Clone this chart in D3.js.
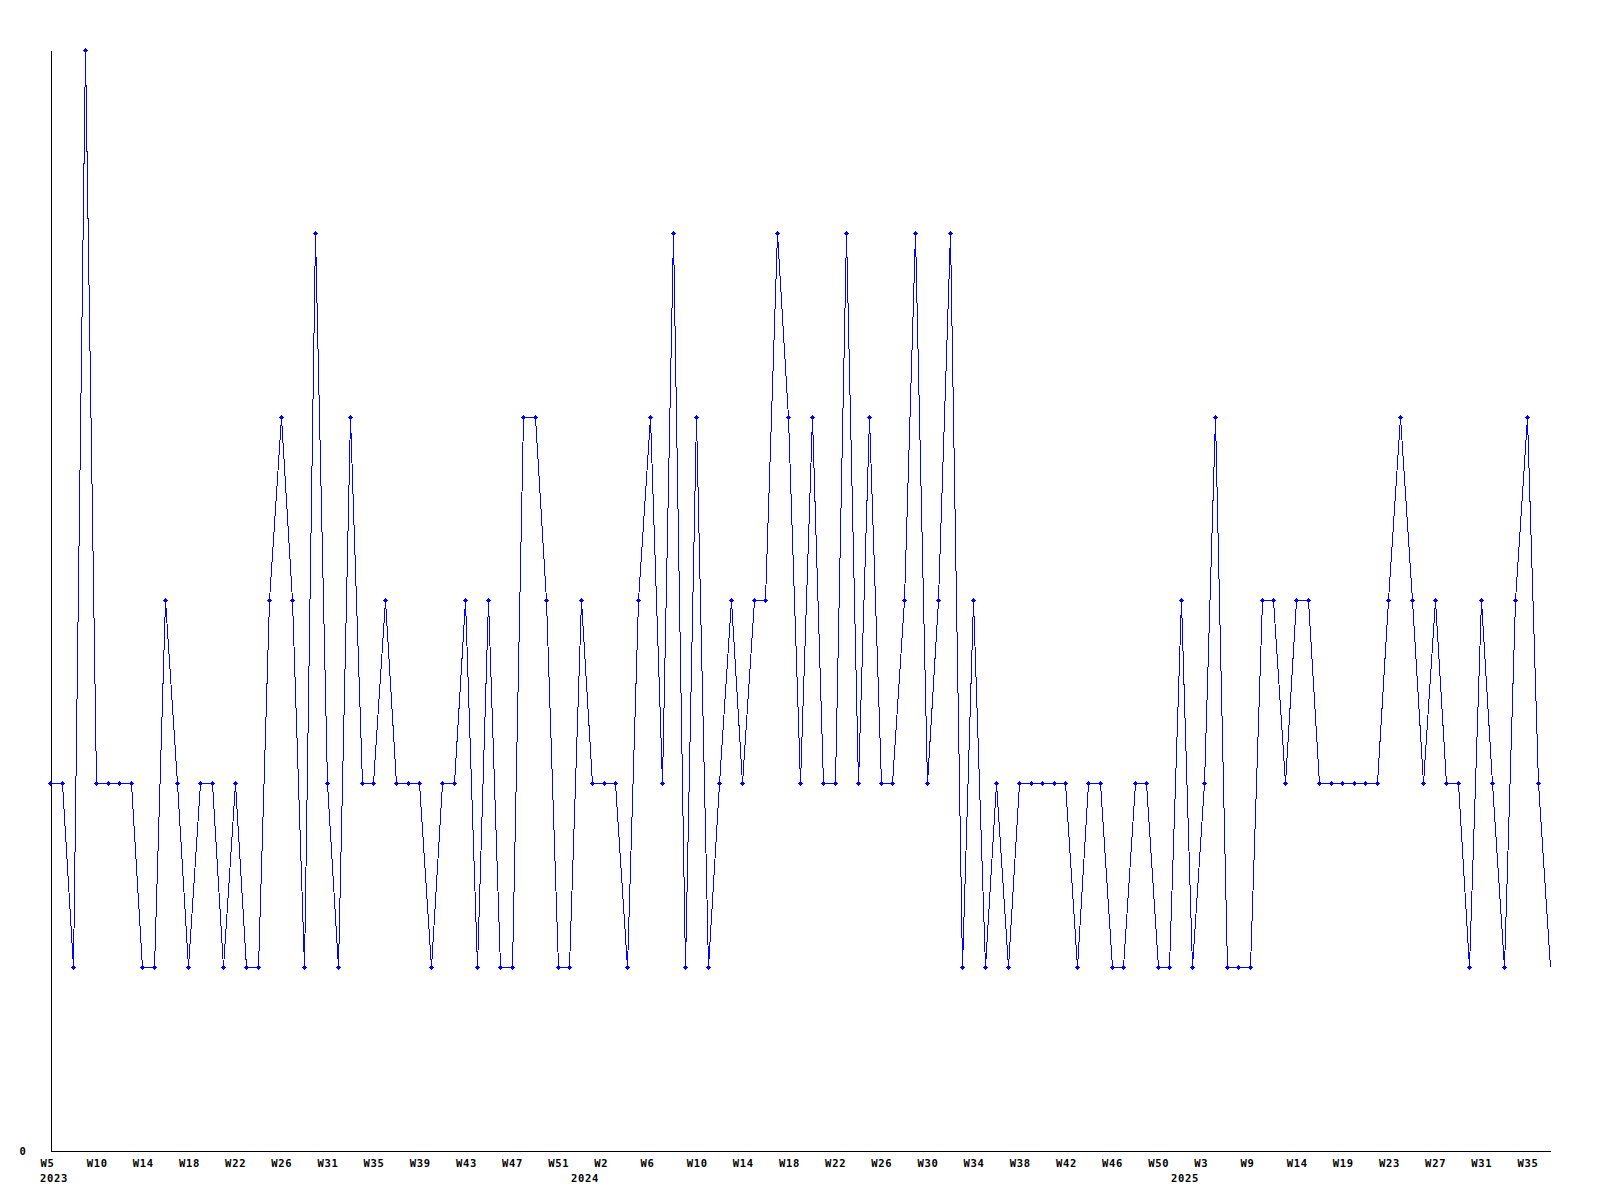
<!DOCTYPE html>
<html>
<head>
<meta charset="utf-8">
<script src="https://cdn.jsdelivr.net/npm/d3@7"></script>
<style>
  html, body { margin: 0; padding: 0; background: #ffffff; }
  svg { display: block; }
  text { font-family: "DejaVu Sans Mono", "Liberation Mono", monospace; font-weight: bold; font-size: 10.5px; letter-spacing: 0.7px; fill: #000; }
</style>
</head>
<body>
<svg id="chart" width="1600" height="1200"></svg>
<script>
// ---- data ----
const years = [2023, 2024, 2025];
const weeks2023 = [5,6,7,8,10,11,12,13,14,15,16,17,18,19,20,21,22,23,24,25,26,27,28,29,31,32,33,34,35,36,37,38,39,40,41,42,43,44,45,46,47,48,49,50,51,52];
const weeks2024 = [0,1,2,3,4,5,6,7,8,9,10,11,12,13,14,15,16,17,18,19,20,21,22,23,24,25,26,27,28,29,30,31,32,33,34,35,36,37,38,39,40,41,42,43,44,45,46,47,48,49,50,51];
const weeks2025 = [1,2,3,4,6,7,9,10,11,13,14,15,16,17,19,20,21,22,23,24,25,26,27,28,29,30,31,32,33,34,35,36,37];
const values = [
  2,2,1,6,2,2,2,2,1,1,
  3,2,1,2,2,1,2,1,1,3,
  4,3,1,5,2,1,4,2,2,3,
  2,2,2,1,2,2,3,1,3,1,
  1,4,4,3,1,1,3,2,2,2,
  1,3,4,2,5,1,4,1,2,3,
  2,3,3,5,4,2,4,2,2,5,
  2,4,2,2,3,5,2,3,5,1,
  3,1,2,1,2,2,2,2,2,1,
  2,2,1,1,2,2,1,1,3,1,
  2,4,1,1,1,3,3,2,3,3,
  2,2,2,2,2,2,3,4,3,2,
  3,2,2,1,3,2,1,3,4,2,
  1
];
const yTickValues = [0];
const tickEvery = 4;

(function () {
// categories built from the week lists
const weekLists = [weeks2023, weeks2024, weeks2025];
const categories = [];
weekLists.forEach((wl, yi) => wl.forEach(w => categories.push({ year: years[yi], week: w })));
const points = values.map((v, i) => ({ i, v, cat: categories[i] }));

// ---- layout ----
const svg = d3.select("#chart");
const mLeft = 50, mRight = 1550, mTop = 50, mBottom = 1150;

const x = d3.scaleLinear().domain([0, values.length - 1]).range([mLeft, mRight]);
const y = d3.scaleLinear().domain([0, d3.max(values)]).range([mBottom, mTop]);

const px = i => Math.round(x(i));
const py = v => Math.round(y(v));

// axes
const xTickIdx = d3.range(0, categories.length, tickEvery);
const xAxis = d3.axisBottom(x)
  .tickValues(xTickIdx)
  .tickSize(0)
  .tickSizeOuter(0)
  .tickFormat(i => "W" + categories[i].week);

const gx = svg.append("g").attr("transform", `translate(0.5,${mBottom + 0.5})`).call(xAxis);
gx.attr("font-size", null).attr("font-family", null);
gx.select(".domain").attr("stroke", "#000").attr("shape-rendering", "crispEdges");
gx.selectAll(".tick text")
  .attr("text-anchor", "start")
  .attr("x", -10.5)
  .attr("y", 16)
  .attr("dy", null)
  .attr("fill", "#000");

const yAxis = d3.axisLeft(y).tickValues(yTickValues).tickSize(0).tickSizeOuter(0).tickFormat(d3.format("d"));
const gy = svg.append("g").attr("transform", `translate(${mLeft + 0.5},0.5)`).call(yAxis);
gy.attr("font-size", null).attr("font-family", null);
gy.select(".domain").attr("stroke", "#000").attr("shape-rendering", "crispEdges");
gy.selectAll(".tick text")
  .attr("text-anchor", "start")
  .attr("x", -31)
  .attr("dy", "0.35em")
  .attr("fill", "#000");

// year labels at the first point of each year
const yearStarts = years.map(yr => categories.findIndex(c => c.year === yr));
svg.append("g").selectAll("text")
  .data(yearStarts)
  .join("text")
  .attr("x", i => px(i) - 10)
  .attr("y", mBottom + 32)
  .text(i => categories[i].year);

// data line
const line = d3.line()
  .x(d => px(d.i) + 0.5)
  .y(d => py(d.v) + 0.5);

svg.append("path")
  .datum(points)
  .attr("fill", "none")
  .attr("stroke", "#0000ff")
  .attr("stroke-width", 1)
  .attr("shape-rendering", "crispEdges")
  .attr("d", line);

// markers (all points except the last)
const markerPath = (cx, cy) =>
  `M${cx-2},${cy}h5v1h-5z M${cx},${cy-2}h1v5h-1z M${cx-1},${cy-1}h3v3h-3z`;
svg.append("g").selectAll("path")
  .data(points.slice(0, -1))
  .join("path")
  .attr("fill", "#0000ff")
  .attr("shape-rendering", "crispEdges")
  .attr("d", d => markerPath(px(d.i), py(d.v)));
})();
</script>
</body>
</html>
